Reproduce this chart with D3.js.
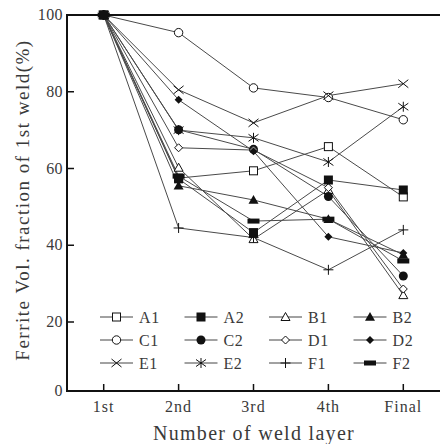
<!DOCTYPE html>
<meta charset="utf-8">
<head>
  <style>
  body { margin: 0; background: #fff; }
  text { font-family: "Liberation Serif", "DejaVu Serif", serif; fill: #3a3a3a; }
  .line { fill: none; stroke: #4a4a4a; stroke-width: 1; }
  </style>
</head>
<body>
<svg width="440" height="444"></svg>
<script src="https://cdn.jsdelivr.net/npm/d3@7/dist/d3.min.js"></script>
<script>

// weld layers on the x axis
var layers = ["1st", "2nd", "3rd", "4th", "Final"];
var yTicks = [0, 20, 40, 60, 80, 100];

// ferrite vol. fraction (% of 1st weld), one array per specimen
var A1 = [100, 57.5, 59.4, 65.7, 52.6];
var A2 = [100, 57.3, 43.3, 57.0, 54.4];
var B1 = [100, 60.2, 41.6, 54.4, 27.0];
var B2 = [100, 55.5, 51.8, 46.8, 37.5];
var C1 = [100, 95.4, 81.0, 78.5, 72.7];
var C2 = [100, 70.1, 65.0, 52.7, 32.0];
var D1 = [100, 65.4, 64.8, 55.0, 28.6];
var D2 = [100, 77.9, 64.5, 42.2, 38.0];
var E1 = [100, 80.5, 71.9, 79.0, 82.1];
var E2 = [100, 70.0, 68.0, 61.7, 76.1];
var F1 = [100, 44.5, 42.0, 33.6, 44.0];
var F2 = [100, 58.0, 46.3, 46.8, 35.9];

var names = ["A1", "A2", "B1", "B2", "C1", "C2", "D1", "D2", "E1", "E2", "F1", "F2"];
var values = [A1, A2, B1, B2, C1, C2, D1, D2, E1, E2, F1, F2];
var markers = ["sqOpen", "sqFill", "triOpen", "triFill", "cirOpen", "cirFill",
               "diaOpen", "diaFill", "cross", "star", "plus", "bar"];

var series = names.map(function(n, i) {
  return { name: n, values: values[i], marker: markers[i] };
});

var svg = d3.select("svg");

var x = d3.scalePoint().domain(layers).range([67, 440]).padding(0.49);
// the scanned axis is slightly compressed between 0 and 20
var y = d3.scaleLinear().domain([0, 20, 100]).range([391, 322, 15]);

// frame: left axis, bottom axis, top line
svg.append("line").attr("x1", 67).attr("x2", 67).attr("y1", 14).attr("y2", 392)
  .attr("stroke", "#111").attr("stroke-width", 2);
svg.append("line").attr("x1", 66).attr("x2", 440).attr("y1", 391).attr("y2", 391)
  .attr("stroke", "#111").attr("stroke-width", 2);
svg.append("line").attr("x1", 66).attr("x2", 440).attr("y1", 15).attr("y2", 15)
  .attr("stroke", "#111").attr("stroke-width", 2);

// y ticks (inward)
var yAxis = svg.append("g");
yAxis.selectAll("line").data(yTicks.filter(function(d) { return d > 0 && d < 100; }))
  .enter().append("line")
  .attr("x1", 67).attr("x2", 74)
  .attr("y1", function(d) { return y(d); }).attr("y2", function(d) { return y(d); })
  .attr("stroke", "#111").attr("stroke-width", 1.5);
yAxis.selectAll("text").data(yTicks).enter().append("text")
  .attr("x", 63).attr("y", function(d) { return y(d) + 5; })
  .attr("text-anchor", "end").attr("font-size", 16).attr("letter-spacing", 0.4)
  .text(function(d) { return d; });

// x ticks (inward)
var xAxis = svg.append("g");
xAxis.selectAll("line").data(layers).enter().append("line")
  .attr("x1", function(d) { return x(d); }).attr("x2", function(d) { return x(d); })
  .attr("y1", 391).attr("y2", 384)
  .attr("stroke", "#111").attr("stroke-width", 1.5);
xAxis.selectAll("text").data(layers).enter().append("text")
  .attr("x", function(d) { return x(d); }).attr("y", 412)
  .attr("text-anchor", "middle").attr("font-size", 16).attr("letter-spacing", 1)
  .text(function(d) { return d; });

// axis titles
svg.append("text").attr("x", 254).attr("y", 440).attr("text-anchor", "middle")
  .attr("font-size", 20).attr("letter-spacing", 1.3).text("Number of weld layer");
svg.append("text").attr("transform", "translate(29,200) rotate(-90)")
  .attr("text-anchor", "middle").attr("font-size", 19).attr("letter-spacing", 1.5)
  .text("Ferrite Vol. fraction of 1st weld(%)");

// marker drawing
function drawMarker(g, type) {
  var k = "#111";
  switch (type) {
    case "sqOpen":
      g.append("rect").attr("x", -4).attr("y", -4).attr("width", 8).attr("height", 8)
        .attr("fill", "#fff").attr("stroke", k).attr("stroke-width", 1); break;
    case "sqFill":
      g.append("rect").attr("x", -4.5).attr("y", -4.5).attr("width", 9).attr("height", 9)
        .attr("fill", k); break;
    case "triOpen":
      g.append("path").attr("d", "M0,-4.5L4.5,3.5L-4.5,3.5Z")
        .attr("fill", "#fff").attr("stroke", k).attr("stroke-width", 1); break;
    case "triFill":
      g.append("path").attr("d", "M0,-5L5,3.8L-5,3.8Z").attr("fill", k); break;
    case "cirOpen":
      g.append("circle").attr("r", 4.2).attr("fill", "#fff").attr("stroke", k).attr("stroke-width", 1); break;
    case "cirFill":
      g.append("circle").attr("r", 4.5).attr("fill", k); break;
    case "diaOpen":
      g.append("path").attr("d", "M0,-4L4,0L0,4L-4,0Z")
        .attr("fill", "#fff").attr("stroke", k).attr("stroke-width", 1); break;
    case "diaFill":
      g.append("path").attr("d", "M0,-4L4,0L0,4L-4,0Z").attr("fill", k); break;
    case "cross":
      g.append("path").attr("d", "M-5,-4L5,4M-5,4L5,-4")
        .attr("stroke", k).attr("stroke-width", 1); break;
    case "star":
      g.append("path").attr("d", "M-5,-3.5L5,3.5M-5,3.5L5,-3.5M0,-5L0,5")
        .attr("stroke", k).attr("stroke-width", 1); break;
    case "plus":
      g.append("path").attr("d", "M-5,0L5,0M0,-5L0,5")
        .attr("stroke", k).attr("stroke-width", 1); break;
    case "bar":
      g.append("rect").attr("x", -6).attr("y", -2.5).attr("width", 12).attr("height", 5)
        .attr("fill", k); break;
  }
}

var line = d3.line()
  .x(function(d, i) { return x(layers[i]); })
  .y(function(d) { return y(d); });

// lines first, then markers; A2 is drawn last so its square sits on the 1st point
var order = series.slice().sort(function(a, b) {
  return (a.name === "A2") - (b.name === "A2");
});

svg.selectAll(".line").data(series).enter().append("path")
  .attr("class", "line")
  .attr("d", function(d) { return line(d.values); });

order.forEach(function(s) {
  s.values.forEach(function(v, i) {
    var g = svg.append("g").attr("transform", "translate(" + x(layers[i]) + "," + y(v) + ")");
    drawMarker(g, s.marker);
  });
});

// legend
var legend = svg.append("g");
series.forEach(function(s, i) {
  var col = i % 4, row = Math.floor(i / 4);
  var lx = 100 + col * 84.5, ly = 317 + row * 23;
  var g = legend.append("g").attr("transform", "translate(" + lx + "," + ly + ")");
  g.append("line").attr("x1", 0).attr("x2", 33).attr("y1", 0).attr("y2", 0)
    .attr("stroke", "#444").attr("stroke-width", 1);
  drawMarker(g.append("g").attr("transform", "translate(16.5,0)"), s.marker);
  g.append("text").attr("x", 39).attr("y", 5.5).attr("font-size", 16)
    .attr("letter-spacing", 0.6).text(s.name);
});

</script>
</body>
